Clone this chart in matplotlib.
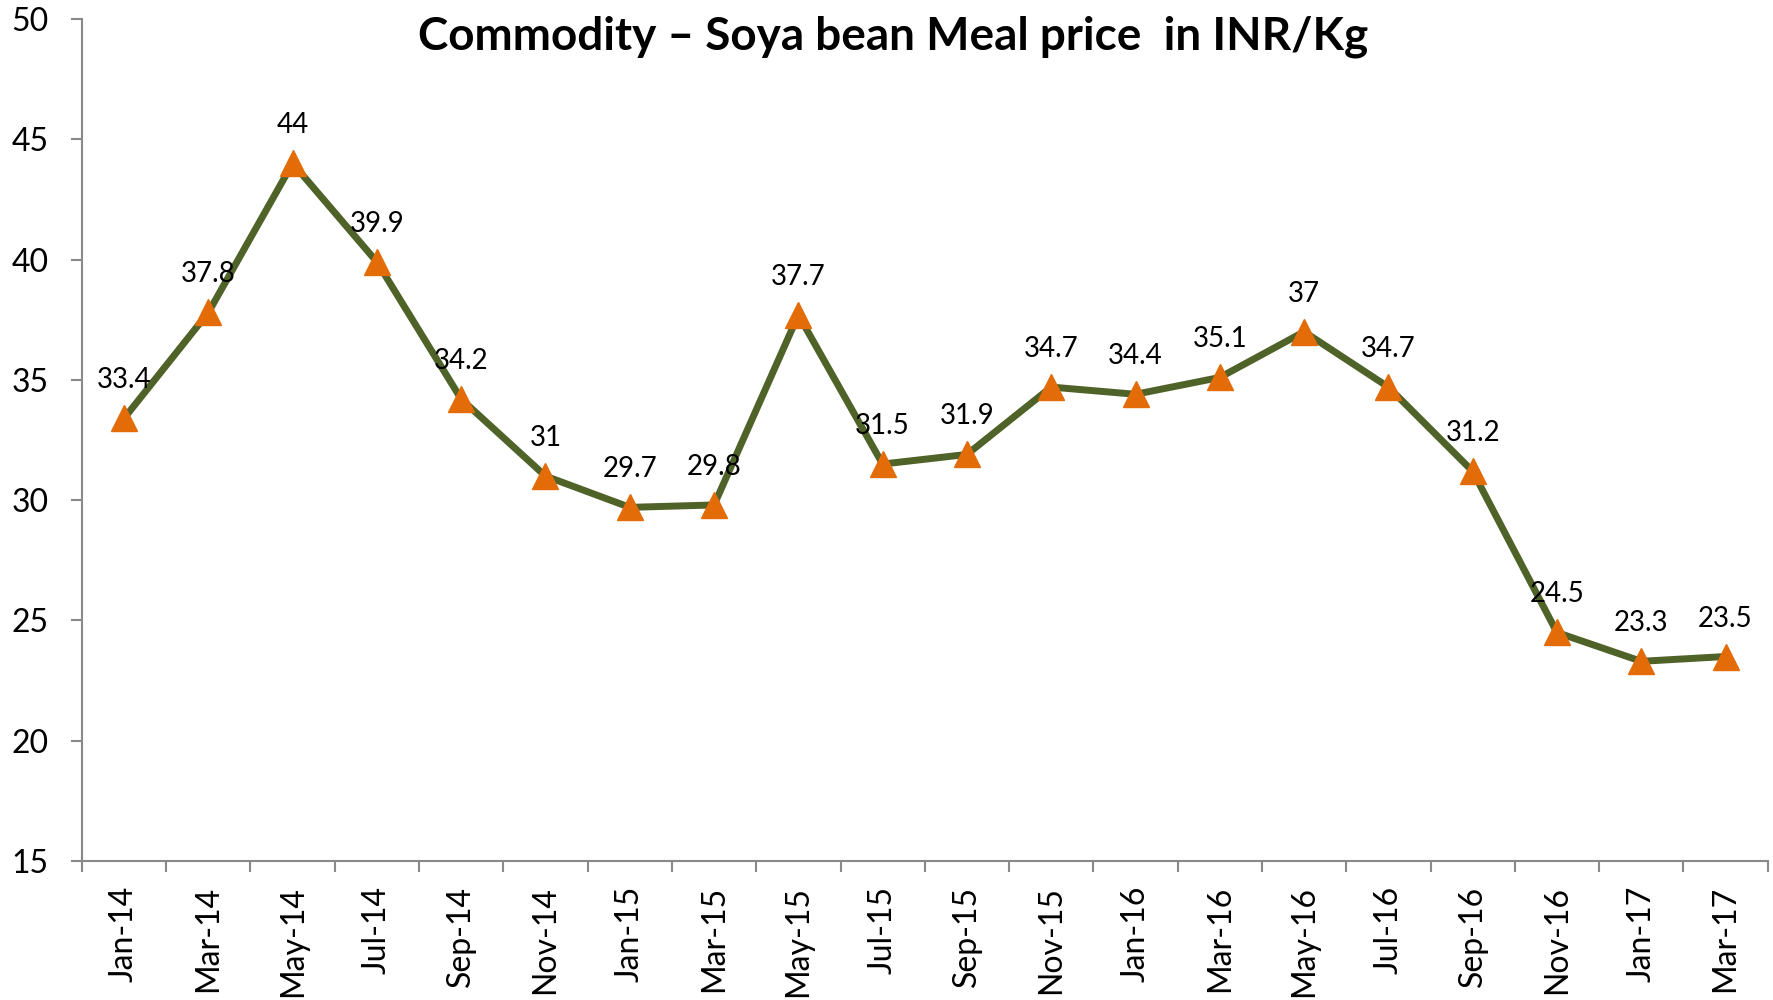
import matplotlib.pyplot as plt
from matplotlib.ticker import FixedLocator

months = ['Jan-14', 'Mar-14', 'May-14', 'Jul-14', 'Sep-14', 'Nov-14', 'Jan-15', 'Mar-15',
          'May-15', 'Jul-15', 'Sep-15', 'Nov-15', 'Jan-16', 'Mar-16', 'May-16', 'Jul-16',
          'Sep-16', 'Nov-16', 'Jan-17', 'Mar-17']
prices = [33.4, 37.8, 44, 39.9, 34.2, 31, 29.7, 29.8, 37.7, 31.5, 31.9, 34.7, 34.4, 35.1,
          37, 34.7, 31.2, 24.5, 23.3, 23.5]
title = 'Commodity \u2013 Soya bean Meal price  in INR/Kg'

plt.rcParams['font.family'] = ['Lato', 'DejaVu Sans']

fig = plt.figure(figsize=(17.73, 10), dpi=100)
ax = fig.add_axes([0.0462, 0.139, 0.9508, 0.842])

x = list(range(len(months)))
ax.plot(x, prices, color='#4F6228', linewidth=5, marker='^', markersize=19,
        markerfacecolor='#E36C09', markeredgecolor='#E36C09', zorder=3)

for xi, v in zip(x, prices):
    ax.annotate(f'{v:g}', (xi, v), xytext=(0, 18), textcoords='offset points',
                ha='center', va='bottom', fontsize=20, color='black')

ax.set_xlim(-0.5, len(months) - 0.5)
ax.set_ylim(15, 50)
ax.set_yticks(range(15, 51, 5))
ax.set_xticks(x)
ax.set_xticklabels(months, rotation=90)
ax.xaxis.set_minor_locator(FixedLocator([i - 0.5 for i in range(len(months) + 1)]))

for s in ['top', 'right']:
    ax.spines[s].set_visible(False)
for s in ['left', 'bottom']:
    ax.spines[s].set_color('#898989')
    ax.spines[s].set_linewidth(1.5)

ax.tick_params(axis='y', direction='out', length=8, width=1.5, color='#898989',
               labelsize=23, pad=16)
ax.tick_params(axis='x', which='major', length=0, labelsize=23, pad=18)
ax.tick_params(axis='x', which='minor', direction='out', length=8, width=1.5, color='#898989')

fig.text(0.504, 0.963, title, ha='center', va='center', fontsize=33, fontweight='bold')

fig.savefig('out.png', dpi=100)
